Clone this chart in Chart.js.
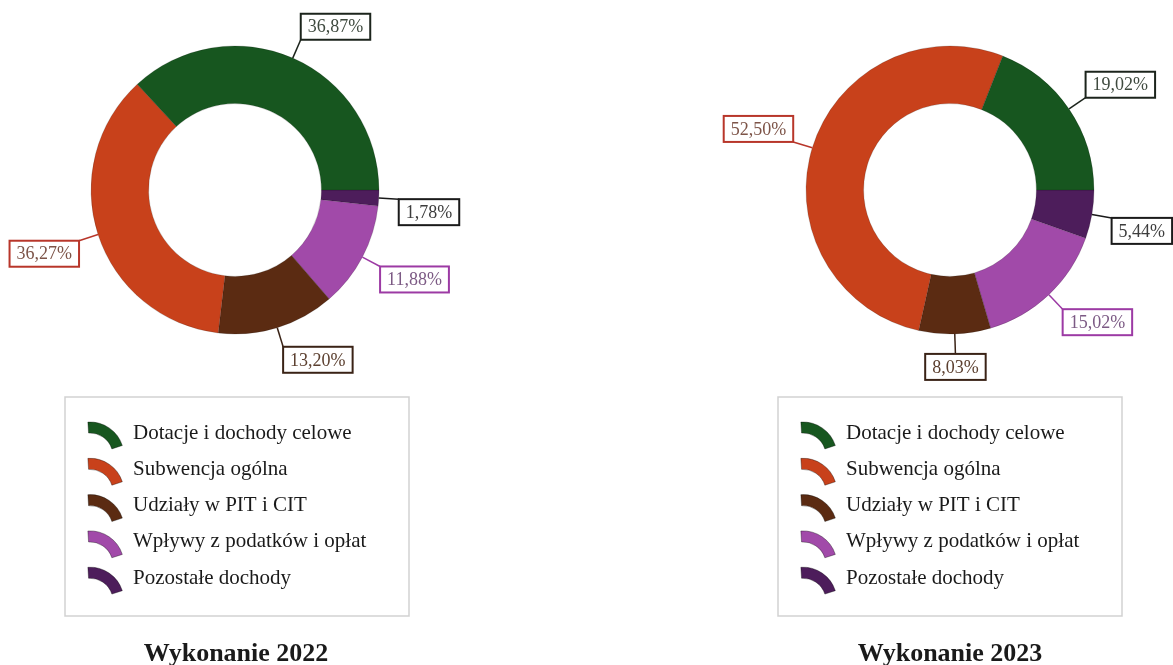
<!DOCTYPE html>
<html>
<head>
<meta charset="utf-8">
<script src="https://cdn.jsdelivr.net/npm/chart.js@4.4.1/dist/chart.umd.min.js"></script>
<style>
  html, body { margin: 0; padding: 0; background: #fff; overflow: hidden; }
  .wrap { position: absolute; top: 0; }
</style>
</head>
<body>
<div class="wrap" style="left:0"><canvas id="chart2022" width="470" height="665"></canvas></div>
<div class="wrap" style="left:703px"><canvas id="chart2023" width="470" height="665"></canvas></div>
<script>
// Data (legend order)
const categories = [
  "Dotacje i dochody celowe",
  "Subwencja ogólna",
  "Udziały w PIT i CIT",
  "Wpływy z podatków i opłat",
  "Pozostałe dochody",
];
const values2022 = [36.87, 36.27, 13.20, 11.88, 1.78];
const values2023 = [19.02, 52.50, 8.03, 15.02, 5.44];
const titles = ["Wykonanie 2022", "Wykonanie 2023"];

const sliceColors = ["#17561f", "#c8411b", "#5b2b12", "#a14aa9", "#4d1d5b"];
const labelBorders = ["#1c241c", "#b8362a", "#3a2316", "#9c3aa4", "#1a1a1a"];
const labelTexts = ["#3f4a3f", "#7d5448", "#5c4030", "#7c5a84", "#3d3d3d"];

const serif = '"Liberation Serif", "Times New Roman", serif';

// slices run anticlockwise in the picture, Chart.js draws clockwise -> reverse
const rev = (a) => a.slice().reverse();

const pctText = (v) => v.toFixed(2).replace(".", ",") + "%";

const leaderLabels = {
  id: "leaderLabels",
  afterDatasetsDraw(chart) {
    const ctx = chart.ctx;
    const meta = chart.getDatasetMeta(0);
    const data = chart.data.datasets[0].data;
    const n = data.length;
    ctx.save();
    ctx.font = "18px " + serif;
    meta.data.forEach((arc, i) => {
      const src = n - 1 - i; // index in legend order
      const { x, y, startAngle, endAngle, outerRadius } = arc.getProps(
        ["x", "y", "startAngle", "endAngle", "outerRadius"], true);
      const mid = (startAngle + endAngle) / 2;
      const c = Math.cos(mid), s = Math.sin(mid);
      const px = x + c * outerRadius, py = y + s * outerRadius;
      const ex = px + c * 20, ey = py + s * 20;
      const txt = pctText(data[i]);
      const w = ctx.measureText(txt).width + 14;
      const h = 26;
      let left, top;
      if (Math.abs(c) < 0.2) left = ex - w / 2;
      else left = c > 0 ? ex : ex - w;
      top = s > 0 ? ey : ey - h;

      ctx.strokeStyle = labelBorders[src];
      ctx.lineWidth = 1.5;
      ctx.beginPath();
      ctx.moveTo(px, py);
      ctx.lineTo(ex, ey);
      ctx.stroke();

      ctx.fillStyle = "#fff";
      ctx.fillRect(left, top, w, h);
      ctx.lineWidth = 2;
      ctx.strokeRect(left, top, w, h);
      ctx.fillStyle = labelTexts[src];
      ctx.textAlign = "center";
      ctx.textBaseline = "middle";
      ctx.fillText(txt, left + w / 2, top + h / 2 + 1);
    });
    ctx.restore();
  },
};

const boxLegend = {
  id: "boxLegend",
  afterDraw(chart, args, opts) {
    const ctx = chart.ctx;
    const labels = rev(chart.data.labels);
    const colors = rev(chart.data.datasets[0].backgroundColor);
    ctx.save();
    ctx.strokeStyle = "#d2d2d2";
    ctx.lineWidth = 1.5;
    ctx.strokeRect(opts.x, opts.y, opts.w, opts.h);

    labels.forEach((lab, i) => {
      const cy = opts.firstRow + i * 36.3;
      const ix = opts.x + 22;
      // little ring piece as the symbol
      const cx0 = ix + 3, cy0 = cy + 23;
      ctx.beginPath();
      ctx.arc(cx0, cy0, 34, -Math.PI * 0.52, -Math.PI * 0.1);
      ctx.arc(cx0, cy0, 23, -Math.PI * 0.1, -Math.PI * 0.52, true);
      ctx.closePath();
      ctx.fillStyle = colors[i];
      ctx.fill();
      ctx.lineWidth = 1;
      ctx.strokeStyle = "rgba(0,0,0,0.35)";
      ctx.stroke();

      ctx.fillStyle = "#1a1a1a";
      ctx.font = "21px " + serif;
      ctx.textAlign = "left";
      ctx.textBaseline = "middle";
      ctx.fillText(lab, opts.x + 68, cy);
    });

    ctx.font = "bold 26px " + serif;
    ctx.textAlign = "center";
    ctx.textBaseline = "alphabetic";
    ctx.fillStyle = "#1a1a1a";
    ctx.fillText(opts.title, opts.titleX, 661);
    ctx.restore();
  },
};

function makeDonut(id, values, title, pad, legendX, titleX) {
  return new Chart(document.getElementById(id), {
    type: "doughnut",
    data: {
      labels: rev(categories),
      datasets: [
        {
          data: rev(values),
          backgroundColor: rev(sliceColors),
          borderColor: "rgba(20,20,20,0.35)",
          borderWidth: 0.5,
        },
      ],
    },
    options: {
      responsive: false,
      animation: false,
      rotation: 90,
      cutout: "60%",
      radius: 144,
      layout: { padding: { top: 40, bottom: 325, left: pad.left, right: pad.right } },
      plugins: {
        legend: { display: false },
        tooltip: { enabled: false },
        boxLegend: { x: legendX, y: 397, w: 344, h: 219, firstRow: 433, title: title, titleX: titleX },
      },
    },
    plugins: [leaderLabels, boxLegend],
  });
}

makeDonut("chart2022", values2022, titles[0], { left: 0, right: 0 }, 65, 236);
makeDonut("chart2023", values2023, titles[1], { left: 24, right: 0 }, 75, 247);
</script>
</body>
</html>
